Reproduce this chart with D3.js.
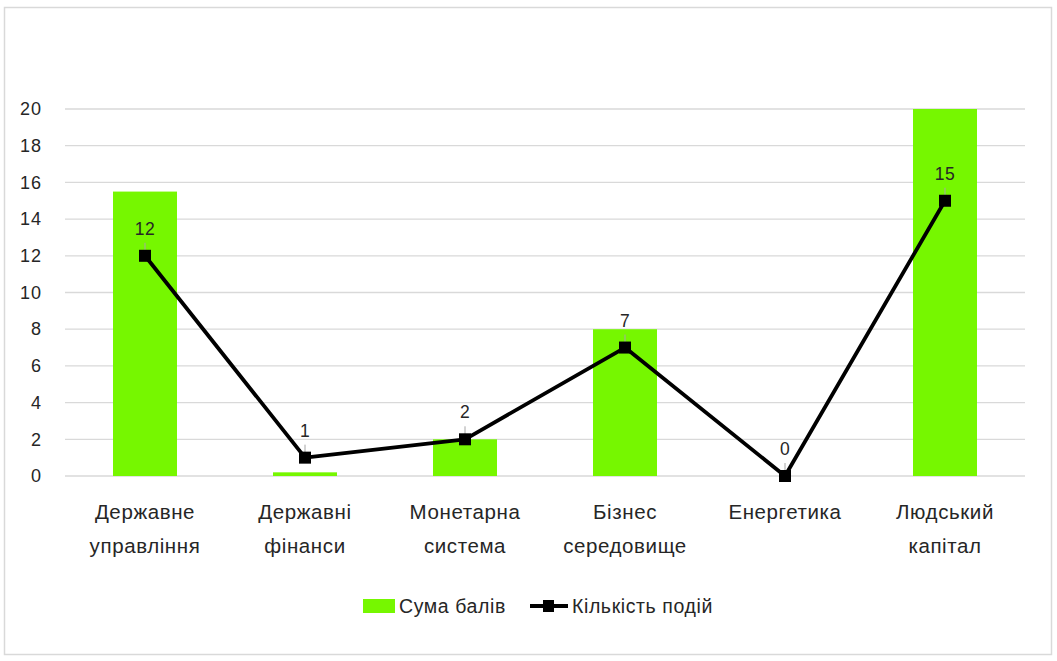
<!DOCTYPE html>
<html><head><meta charset="utf-8">
<script src="https://cdn.jsdelivr.net/npm/d3@7"></script>
<style>
html,body{margin:0;padding:0;background:#fff;}
text{font-family:"Liberation Sans",Arial,sans-serif;}
</style></head>
<body>
<svg id="chart" width="1057" height="661"></svg>
<script>
const categories = [["Державне","управління"],["Державні","фінанси"],["Монетарна","система"],["Бізнес","середовище"],["Енергетика"],["Людський","капітал"]];
const barValues = [15.5, 0.2, 2, 8, 0, 20];
const lineValues = [12, 1, 2, 7, 0, 15];
const yTicks = [0,2,4,6,8,10,12,14,16,18,20];
const seriesNames = ["Сума балів","Кількість подій"];

(function(){
const svg = d3.select("#chart");
svg.append("rect").attr("x",4.5).attr("y",7.5).attr("width",1047).attr("height",647)
  .attr("fill","#fff").attr("stroke","#d9d9d9").attr("stroke-width",1.5);

const pLeft = 65, pRight = 1025, pTop = 109, pBottom = 476;
const x = d3.scaleBand().domain(d3.range(categories.length)).range([pLeft,pRight]).paddingInner(0.6).paddingOuter(0.3);
const xc = i => x(i) + x.bandwidth()/2;
const y = d3.scaleLinear().domain([0,20]).range([pBottom,pTop]);

svg.append("g").selectAll("line").data(yTicks).join("line")
  .attr("x1",pLeft).attr("x2",pRight).attr("y1",d=>y(d)).attr("y2",d=>y(d))
  .attr("stroke","#d9d9d9").attr("stroke-width",1.3);

const yAxis = d3.axisLeft(y).tickValues(yTicks).tickSize(0).tickPadding(0);
const ga = svg.append("g").attr("transform","translate(42,0)").call(yAxis);
ga.select(".domain").remove();
ga.selectAll("text").attr("font-size",18).attr("letter-spacing",1).attr("fill","#262626")
  .attr("font-family","Liberation Sans, Arial, sans-serif");

svg.append("g").selectAll("rect").data(barValues).join("rect")
  .attr("x",(d,i)=>x(i)).attr("width",x.bandwidth())
  .attr("y",d=>y(d)).attr("height",d=>pBottom-y(d))
  .attr("fill","#76f700");

const line = d3.line().x((d,i)=>xc(i)).y(d=>y(d));
svg.append("path").datum(lineValues).attr("d",line).attr("fill","none")
  .attr("stroke","#000").attr("stroke-width",3.8).attr("stroke-linejoin","round");

svg.append("g").selectAll("line").data(lineValues).join("line")
  .attr("x1",(d,i)=>xc(i)).attr("x2",(d,i)=>xc(i))
  .attr("y1",d=>y(d)-13).attr("y2",d=>y(d)-5)
  .attr("stroke","#a6a6a6").attr("stroke-width",1);

svg.append("g").selectAll("rect").data(lineValues).join("rect")
  .attr("x",(d,i)=>xc(i)-6).attr("y",d=>y(d)-6).attr("width",12).attr("height",12)
  .attr("fill","#000");

svg.append("g").selectAll("text").data(lineValues).join("text")
  .attr("x",(d,i)=>xc(i)).attr("y",d=>y(d)-21)
  .attr("text-anchor","middle").attr("font-size",17.5).attr("letter-spacing",0.5).attr("fill","#262626").text(d=>d);

const cg = svg.append("g");
categories.forEach((lines,i)=>{
  const t = cg.append("text").attr("x",xc(i)).attr("y",519).attr("text-anchor","middle")
    .attr("font-size",20.5).attr("letter-spacing",0.6).attr("fill","#262626");
  lines.forEach((l,j)=>t.append("tspan").attr("x",xc(i)).attr("dy",j===0?0:34).text(l));
});

const lg = svg.append("g");
lg.append("rect").attr("x",363).attr("y",599).attr("width",32).attr("height",14).attr("fill","#76f700");
lg.append("text").attr("x",399).attr("y",613).attr("font-size",19.5).attr("letter-spacing",0.6).attr("fill","#262626").text(seriesNames[0]);
lg.append("line").attr("x1",530).attr("x2",568).attr("y1",606).attr("y2",606).attr("stroke","#000").attr("stroke-width",3.8);
lg.append("rect").attr("x",543).attr("y",600).attr("width",11).attr("height",12).attr("fill","#000");
lg.append("text").attr("x",572).attr("y",613).attr("font-size",19.5).attr("letter-spacing",0.6).attr("fill","#262626").text(seriesNames[1]);
})();
</script>
</body></html>
